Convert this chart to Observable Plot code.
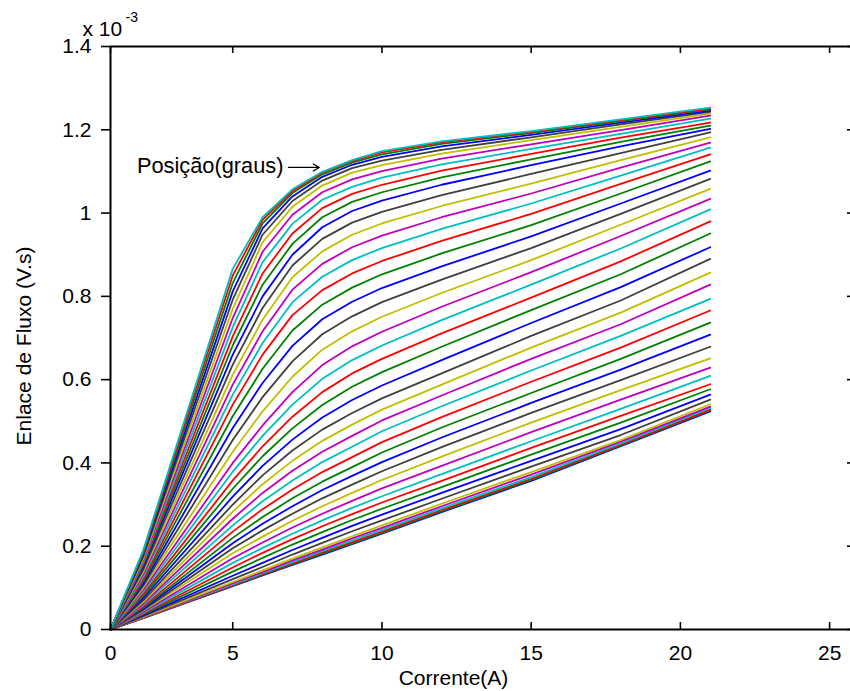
<!DOCTYPE html>
<html><head><meta charset="utf-8">
<script src="https://cdn.jsdelivr.net/npm/d3@7"></script>
<script src="https://cdn.jsdelivr.net/npm/@observablehq/plot@0.6"></script>
<style>body{margin:0;background:#fff} svg{display:block}</style>
</head><body><div id="chart"></div>
<script>
// rotor positions (degrees), one curve each
const positions = [0,1,2,3,4,5,6,7,8,9,10,11,12,13,14,15,16,17,18,19,20,21,22,23,24,25,26,27,28,29,30,31,32,33,34,35,36,37,38,39,40,41,42,43,44,45];
// current samples (A)
const currents = [0,2,5,6,7,8,9,10,12,15,18,21];
// flux linkage (x 1e-3 V.s) at each current, one value per position
const psiAt0  = [0,0,0,0,0,0,0,0,0,0,0,0,0,0,0,0,0,0,0,0,0,0,0,0,0,0,0,0,0,0,0,0,0,0,0,0,0,0,0,0,0,0,0,0,0,0];
const psiAt2  = [0.027,0.027,0.028,0.029,0.029,0.030,0.032,0.034,0.036,0.038,0.040,0.042,0.045,0.047,0.050,0.052,0.055,0.059,0.062,0.066,0.070,0.075,0.080,0.085,0.090,0.095,0.100,0.105,0.110,0.115,0.120,0.126,0.132,0.138,0.144,0.150,0.154,0.158,0.162,0.166,0.170,0.175,0.179,0.183,0.187,0.190];
const psiAt5  = [0.104,0.105,0.106,0.108,0.111,0.114,0.121,0.129,0.139,0.149,0.160,0.171,0.183,0.195,0.207,0.220,0.235,0.250,0.266,0.283,0.300,0.319,0.338,0.358,0.379,0.400,0.427,0.455,0.484,0.512,0.540,0.564,0.588,0.612,0.636,0.660,0.682,0.704,0.726,0.748,0.770,0.792,0.812,0.832,0.850,0.866];
const psiAt6  = [0.130,0.131,0.133,0.135,0.138,0.142,0.150,0.160,0.172,0.184,0.196,0.209,0.223,0.238,0.254,0.270,0.289,0.308,0.328,0.349,0.370,0.393,0.416,0.440,0.465,0.490,0.524,0.558,0.592,0.626,0.660,0.688,0.716,0.744,0.772,0.800,0.828,0.855,0.882,0.907,0.930,0.948,0.963,0.975,0.984,0.990];
const psiAt7  = [0.155,0.157,0.159,0.162,0.166,0.170,0.180,0.191,0.204,0.217,0.230,0.245,0.261,0.278,0.296,0.315,0.336,0.358,0.381,0.405,0.430,0.456,0.483,0.511,0.540,0.570,0.607,0.644,0.681,0.718,0.755,0.786,0.816,0.846,0.874,0.900,0.926,0.951,0.974,0.996,1.015,1.029,1.040,1.048,1.053,1.057];
const psiAt8  = [0.180,0.182,0.185,0.188,0.192,0.197,0.208,0.220,0.234,0.248,0.262,0.278,0.296,0.315,0.335,0.355,0.378,0.402,0.427,0.453,0.480,0.509,0.539,0.570,0.602,0.635,0.672,0.709,0.745,0.780,0.815,0.847,0.878,0.908,0.938,0.966,0.990,1.012,1.032,1.050,1.066,1.078,1.087,1.093,1.097,1.099];
const psiAt9  = [0.205,0.207,0.210,0.214,0.219,0.224,0.236,0.249,0.263,0.277,0.292,0.309,0.328,0.348,0.369,0.390,0.414,0.439,0.465,0.492,0.520,0.551,0.583,0.615,0.647,0.680,0.716,0.752,0.787,0.821,0.855,0.887,0.918,0.948,0.977,1.005,1.027,1.046,1.063,1.081,1.097,1.108,1.116,1.121,1.125,1.127];
const psiAt10 = [0.230,0.232,0.235,0.239,0.244,0.250,0.262,0.276,0.290,0.305,0.320,0.339,0.359,0.380,0.402,0.425,0.450,0.476,0.502,0.528,0.555,0.586,0.618,0.650,0.682,0.715,0.751,0.786,0.820,0.853,0.885,0.916,0.946,0.975,1.003,1.030,1.050,1.068,1.085,1.101,1.115,1.126,1.135,1.141,1.146,1.149];
const psiAt12 = [0.282,0.284,0.287,0.291,0.296,0.302,0.314,0.328,0.342,0.357,0.373,0.393,0.415,0.438,0.461,0.485,0.510,0.536,0.562,0.588,0.615,0.647,0.679,0.711,0.743,0.775,0.808,0.840,0.872,0.903,0.933,0.962,0.990,1.017,1.043,1.068,1.086,1.102,1.117,1.131,1.143,1.152,1.160,1.166,1.170,1.172];
const psiAt15 = [0.357,0.359,0.362,0.366,0.372,0.378,0.391,0.405,0.420,0.436,0.452,0.474,0.497,0.520,0.544,0.568,0.595,0.622,0.650,0.677,0.705,0.736,0.767,0.797,0.828,0.858,0.887,0.916,0.944,0.971,0.998,1.023,1.047,1.071,1.094,1.115,1.129,1.142,1.154,1.165,1.175,1.182,1.188,1.192,1.195,1.197];
const psiAt18 = [0.440,0.442,0.444,0.447,0.451,0.455,0.467,0.481,0.497,0.513,0.530,0.552,0.575,0.599,0.624,0.650,0.677,0.705,0.733,0.761,0.790,0.822,0.853,0.884,0.915,0.945,0.972,0.998,1.023,1.047,1.070,1.090,1.109,1.127,1.144,1.160,1.171,1.181,1.190,1.199,1.207,1.213,1.217,1.221,1.223,1.225];
const psiAt21 = [0.524,0.526,0.528,0.532,0.535,0.541,0.552,0.564,0.577,0.589,0.609,0.629,0.651,0.679,0.708,0.737,0.766,0.794,0.828,0.857,0.890,0.918,0.951,0.980,1.009,1.034,1.058,1.082,1.102,1.124,1.141,1.157,1.169,1.182,1.194,1.202,1.210,1.217,1.227,1.234,1.239,1.243,1.246,1.249,1.251,1.253];

const lineColors = ["#0000FF","#008000","#FF0000","#00BFBF","#BF00BF","#BFBF00","#404040"];
const xTicks = [0,5,10,15,20,25];
const yTicks = [0,0.2,0.4,0.6,0.8,1,1.2,1.4];
const xLabel = "Corrente(A)";
const yLabel = "Enlace de Fluxo (V.s)";
const exponentBase = "x 10";
const exponentPower = "-3";
const annotationRows = [{current: 6.70, flux: 1.114, label: "Posição(graus)"}];
const arrowRows = [{from: 6.87, to: 7.90, flux: 1.1095}];

const fluxColumns = [psiAt0, psiAt2, psiAt5, psiAt6, psiAt7, psiAt8, psiAt9, psiAt10, psiAt12, psiAt15, psiAt18, psiAt21];
const rows = [];
positions.forEach((p, i) => {
  currents.forEach((c, j) => rows.push({pos: p, current: c, flux: fluxColumns[j][i], color: lineColors[i % lineColors.length]}));
});

const font = "'Liberation Sans', Arial, Helvetica, sans-serif";
const fs = 21;
const chart = Plot.plot({
  width: 850, height: 691,
  marginLeft: 110, marginRight: 0, marginTop: 46, marginBottom: 62,
  style: {fontFamily: font, fontSize: fs + "px", background: "#fff", color: "#000"},
  x: {type: "linear", domain: [0, 2, 25.8], range: [110, 142.7, 853]},
  y: {domain: [0, 1.4]},
  color: {type: "identity"},
  marks: [
    Plot.line(rows, {x: "current", y: "flux", z: "pos", stroke: "color", strokeWidth: 1.8}),
    Plot.ruleY([0, 1.4], {stroke: "#000", strokeWidth: 2}),
    Plot.ruleX([0], {stroke: "#000", strokeWidth: 2}),
    Plot.tickX(xTicks, {x: d => d, insetTop: 576, stroke: "#000", strokeWidth: 1.6}),
    Plot.tickX(xTicks, {x: d => d, insetBottom: 576, stroke: "#000", strokeWidth: 1.6}),
    Plot.tickY(yTicks, {y: d => d, insetLeft: 737, stroke: "#000", strokeWidth: 1.6}),
    Plot.axisY({ticks: yTicks, tickSize: 9, tickPadding: 10, tickFormat: d3.format("~g"), label: null, strokeWidth: 1.6, fontSize: fs}),
    Plot.axisX({ticks: xTicks, tickSize: 0, tickPadding: 16, label: null, fontSize: fs}),
    Plot.text([yLabel], {text: d => d, frameAnchor: "left", textAnchor: "middle", lineAnchor: "middle", rotate: -90, dx: -86, dy: 8, fontSize: fs}),
    Plot.text([xLabel], {text: d => d, frameAnchor: "bottom", textAnchor: "middle", lineAnchor: "middle", dx: -27, dy: 49, fontSize: fs}),
    Plot.text([exponentBase], {text: d => d, frameAnchor: "top-left", textAnchor: "start", lineAnchor: "top", dx: -28, dy: -25.5, fontSize: fs}),
    Plot.text([exponentPower], {text: d => d, frameAnchor: "top-left", textAnchor: "start", lineAnchor: "top", dx: 15, dy: -34.5, fontSize: 14}),
    Plot.text(annotationRows, {x: "current", y: "flux", text: "label", textAnchor: "end", lineAnchor: "middle", fontSize: 21.8}),
    Plot.arrow(arrowRows, {x1: "from", x2: "to", y1: "flux", y2: "flux", headLength: 8, strokeWidth: 1.3, stroke: "#000"})
  ]
});
document.getElementById("chart").appendChild(chart);
</script>
</body></html>
